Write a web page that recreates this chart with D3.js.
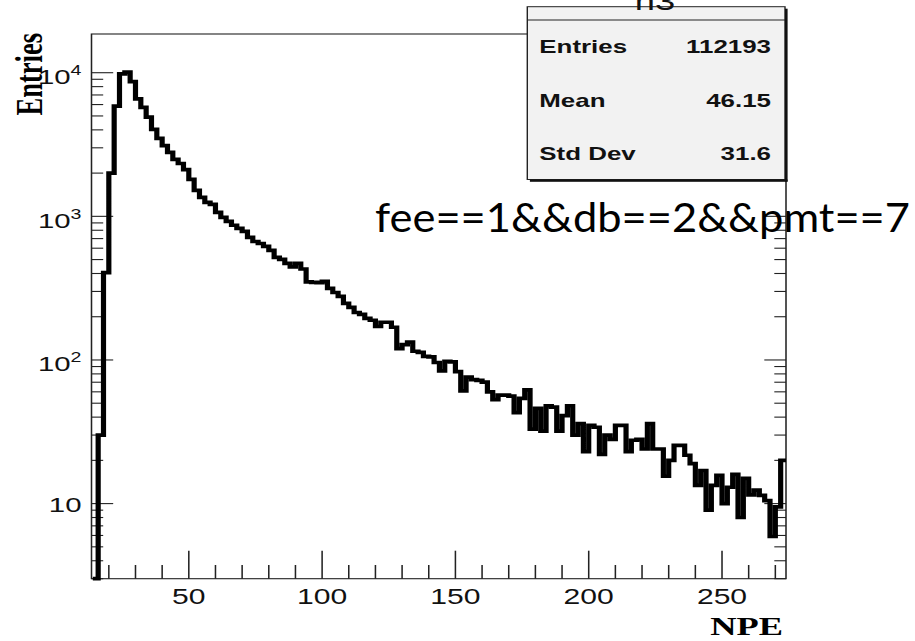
<!DOCTYPE html>
<html>
<head>
<meta charset="utf-8">
<script src="https://cdn.jsdelivr.net/npm/d3@7"></script>
<style>
  body { margin: 0; background: #fff; }
  svg { display: block; }
</style>
</head>
<body>
<script>
// NPE spectrum for fee==1 && db==2 && pmt==7, 2-NPE bins from 14 to 274
const binEdges = d3.range(14, 275, 2);
const entries = [
  1, 30, 405, 2000, 5850, 9800, 10100, 8660, 6580, 5730,
  4900, 4030, 3485, 3110, 2786, 2490, 2333, 2117, 1806, 1516,
  1355, 1250, 1210, 1065, 985, 922, 867, 824, 786, 714,
  668, 647, 618, 580, 518, 501, 470, 445, 470, 430,
  350, 347, 346, 352, 315, 295, 277, 248, 232, 214,
  208, 195, 189, 171, 183, 183, 169, 120, 128, 133,
  115, 113, 106, 105, 96, 84, 98, 97, 83, 61,
  76, 73, 72, 70, 60, 53, 57, 57, 56, 43,
  54, 62, 33, 46, 32, 48, 47, 32, 41, 48,
  30, 36, 23, 35, 34, 22, 30, 28, 35, 35,
  23, 27.6, 28, 24, 36, 24, 24, 15.5, 20, 25.4,
  25.4, 21.7, 19, 13.4, 17, 9, 13.4, 15.7, 10, 13,
  16, 8, 15, 11.5, 12.4, 11.4, 10.5, 5.9, 9.5, 20
];

const xMajorTicks = [50, 100, 150, 200, 250];
const xMinorTicks = d3.range(20, 271, 10).filter(v => v % 50 !== 0);
const yMajorTicks = [10, 100, 1000, 10000];
const yMinorTicks = [1, 10, 100, 1000].flatMap(d => d3.range(2, 10).map(m => m * d)).filter(v => v >= 3);

const histTitle = "h3";
const statLabels = ["Entries", "Mean", "Std Dev"];
const statValues = ["112193", "46.15", "31.6"];
const xTitle = "NPE";
const yTitle = "Entries";
const cutText = "fee==1&&db==2&&pmt==7";

const W = 915, H = 641;
const S = 1.4;                 // horizontal stretch of the canvas drawing
const ix = v => v / S;         // page x -> canvas x
const frame = { l: 91.5, r: 786, t: 34, b: 578.7 };

const x = d3.scaleLinear().domain([13.5, 274]).range([ix(frame.l), ix(frame.r)]);
const y = d3.scaleLog().domain([3, 18600]).range([frame.b, frame.t]).clamp(true);

const svg = d3.select("body").append("svg").attr("width", W).attr("height", H);
svg.append("rect").attr("width", W).attr("height", H).attr("fill", "#fff");

const g = svg.append("g").attr("transform", `scale(${S},1)`);
const sans = "'Liberation Sans', Arial, Helvetica, sans-serif";
const serif = "'Liberation Serif', 'Times New Roman', serif";

// frame
const [x0, x1] = x.range();
g.append("rect")
  .attr("x", x0).attr("y", frame.t)
  .attr("width", x1 - x0).attr("height", frame.b - frame.t)
  .attr("fill", "none").attr("stroke", "#222").attr("stroke-width", 1.1);

// x ticks (bottom)
const ticks = g.append("g").attr("stroke", "#222").attr("stroke-width", 1.1);
xMajorTicks.forEach(v => ticks.append("line")
  .attr("x1", x(v)).attr("x2", x(v)).attr("y1", frame.b).attr("y2", frame.b - 28));
xMinorTicks.forEach(v => ticks.append("line")
  .attr("x1", x(v)).attr("x2", x(v)).attr("y1", frame.b).attr("y2", frame.b - 13.7));

// y ticks (left and right)
const majLen = ix(21.7), minLen = ix(11.7);
yMajorTicks.forEach(v => {
  ticks.append("line").attr("x1", x0).attr("x2", x0 + majLen).attr("y1", y(v)).attr("y2", y(v));
  ticks.append("line").attr("x1", x1).attr("x2", x1 - majLen).attr("y1", y(v)).attr("y2", y(v));
});
yMinorTicks.forEach(v => {
  ticks.append("line").attr("x1", x0).attr("x2", x0 + minLen).attr("y1", y(v)).attr("y2", y(v));
  ticks.append("line").attr("x1", x1).attr("x2", x1 - minLen).attr("y1", y(v)).attr("y2", y(v));
});

// histogram outline
const pts = [[binEdges[0], y.domain()[0]]];
entries.forEach((v, i) => { pts.push([binEdges[i], v], [binEdges[i + 1], v]); });
const line = d3.line().x(d => x(d[0])).y(d => y(d[1]));
g.append("path")
  .attr("d", line(pts))
  .attr("fill", "none").attr("stroke", "#000")
  .attr("stroke-width", 3.7).attr("stroke-linejoin", "miter");

// x tick labels
xMajorTicks.forEach(v => g.append("text")
  .attr("x", x(v)).attr("y", 604)
  .attr("text-anchor", "middle")
  .attr("font-family", sans).attr("font-size", 21.5).attr("fill", "#111")
  .text(v));

// y tick labels: 10, 10^2, 10^3, 10^4
yMajorTicks.forEach(v => {
  const e = Math.round(Math.log10(v));
  const t = g.append("text")
    .attr("x", ix(81.5)).attr("y", y(v) + (e === 1 ? 8.5 : 11.5))
    .attr("text-anchor", "end")
    .attr("font-family", sans).attr("font-size", 21).attr("fill", "#111");
  t.append("tspan").text("10");
  if (e > 1) t.append("tspan").attr("dy", -9).attr("font-size", 14).text(e);
});

// axis titles
g.append("text")
  .attr("x", ix(783)).attr("y", 635)
  .attr("text-anchor", "end")
  .attr("font-family", serif).attr("font-weight", "bold").attr("font-size", 26)
  .text(xTitle);
g.append("text")
  .attr("transform", `translate(${ix(42)},33) rotate(-90)`)
  .attr("text-anchor", "end")
  .attr("font-family", serif).attr("font-weight", "bold").attr("font-size", 26.5)
  .text(yTitle);

// statistics box
const box = { l: 527.3, r: 785, t: 6.7, b: 179.5 };
g.append("rect")
  .attr("x", ix(box.l)).attr("y", box.t)
  .attr("width", ix(box.r - box.l)).attr("height", box.b - box.t)
  .attr("fill", "#f2f2f2").attr("stroke", "#222").attr("stroke-width", 1);
g.append("rect")
  .attr("x", ix(box.r)).attr("y", box.t + 2)
  .attr("width", ix(2.6)).attr("height", box.b - box.t)
  .attr("fill", "#111");
g.append("rect")
  .attr("x", ix(box.l + 2.6)).attr("y", box.b)
  .attr("width", ix(box.r - box.l)).attr("height", 2.3)
  .attr("fill", "#111");
g.append("line")
  .attr("x1", ix(box.l)).attr("x2", ix(box.r))
  .attr("y1", 20).attr("y2", 20)
  .attr("stroke", "#222").attr("stroke-width", 1);
g.append("text")
  .attr("x", ix(655)).attr("y", 10)
  .attr("text-anchor", "middle")
  .attr("font-family", sans).attr("font-size", 26).attr("fill", "#111")
  .text(histTitle);

const rowY = [53.3, 106.7, 160];
statLabels.forEach((s, i) => {
  g.append("text")
    .attr("x", ix(539.3)).attr("y", rowY[i])
    .attr("font-family", sans).attr("font-weight", "bold").attr("font-size", 18.5).attr("fill", "#111")
    .text(s);
  g.append("text")
    .attr("x", ix(771)).attr("y", rowY[i])
    .attr("text-anchor", "end")
    .attr("font-family", sans).attr("font-weight", "bold").attr("font-size", 18.5).attr("fill", "#111")
    .text(statValues[i]);
});

// cut annotation
svg.append("text")
  .attr("x", 375).attr("y", 231.7)
  .attr("font-family", "Lato, 'Open Sans', sans-serif").attr("font-size", 40)
  .attr("textLength", 535).attr("lengthAdjust", "spacingAndGlyphs")
  .attr("fill", "#000")
  .text(cutText);
</script>
</body>
</html>
